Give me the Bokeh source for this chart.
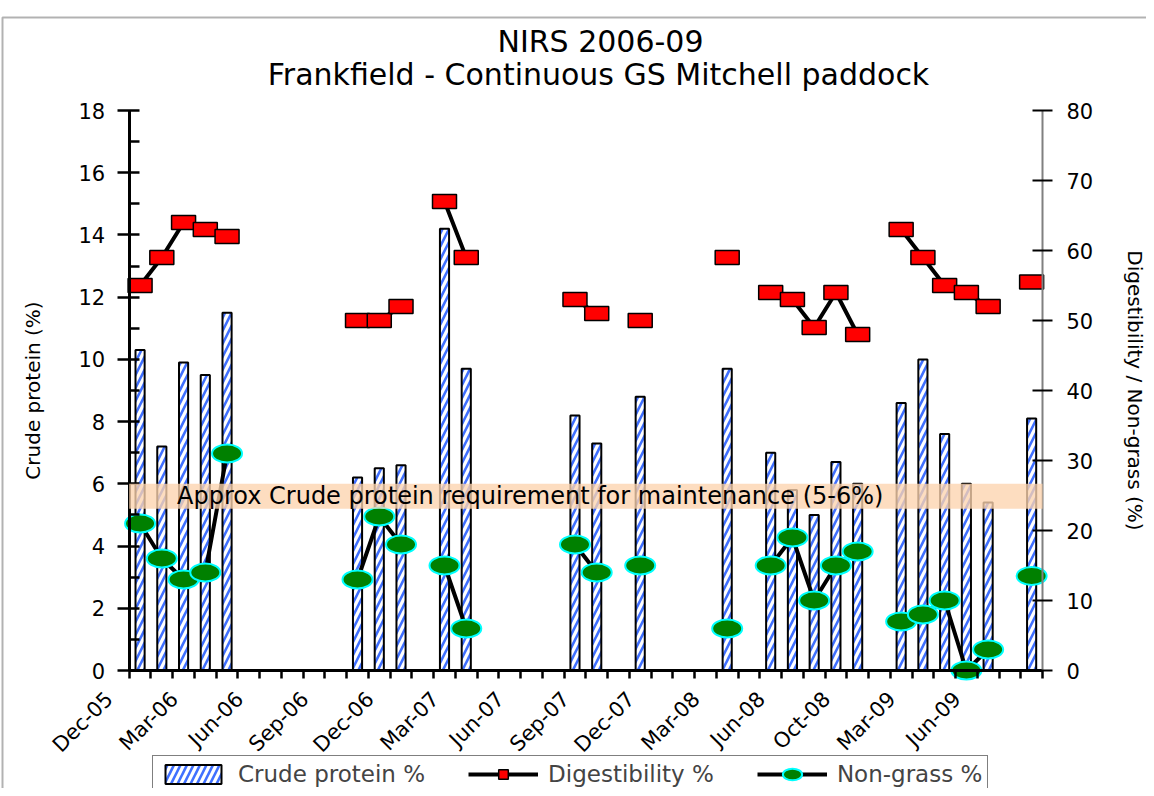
import math
from bokeh.plotting import figure
from bokeh.models import (Range1d, LinearAxis, FixedTicker, BoxAnnotation, Label,
                          Legend, LegendItem)
from bokeh.embed import file_html
from bokeh.resources import INLINE

# ---------------- data ----------------
n_slots = 42
tick_labels = ["Dec-05", "Mar-06", "Jun-06", "Sep-06", "Dec-06", "Mar-07", "Jun-07",
               "Sep-07", "Dec-07", "Mar-08", "Jun-08", "Oct-08", "Mar-09", "Jun-09"]
tick_slots = [0, 3, 6, 9, 12, 15, 18, 21, 24, 27, 30, 33, 36, 39]

sample_slot = [0, 1, 2, 3, 4, 10, 11, 12, 14, 15, 20, 21, 23, 27,
               29, 30, 31, 32, 33, 35, 36, 37, 38, 39, 41]
crude_protein = [10.3, 7.2, 9.9, 9.5, 11.5, 6.2, 6.5, 6.6, 14.2, 9.7, 8.2, 7.3, 8.8, 9.7,
                 7.0, 5.8, 5.0, 6.7, 6.0, 8.6, 10.0, 7.6, 6.0, 5.4, 8.1]
digestibility = [55, 59, 64, 63, 62, 50, 50, 52, 67, 59, 53, 51, 50, 59,
                 54, 53, 49, 54, 48, 63, 59, 55, 54, 52, 55.5]
non_grass = [21, 16, 13, 14, 31, 13, 22, 18, 15, 6, 18, 14, 15, 6,
             15, 19, 10, 15, 17, 7, 8, 10, 0, 3, 13.5]

FONT = "DejaVu Sans"
W, H = 1146, 788
FRAME_L, FRAME_R, FRAME_T, FRAME_B = 128.7, 1042.0, 110.0, 670.0

x_mid = [s + 0.5 for s in sample_slot]
slot_x = [i + 0.5 for i in range(n_slots)]


def full(vals):
    arr = [float("nan")] * n_slots
    for s, v in zip(sample_slot, vals):
        arr[s] = v
    return arr


# ranges chosen so that the plotting box [0,42]x[0,18] lands where the reference has it
xpx = (FRAME_R - FRAME_L) / n_slots
x0 = -FRAME_L / xpx
x1 = n_slots + (W - FRAME_R) / xpx
ypx = (FRAME_B - FRAME_T) / 18.0
y0 = -(H - FRAME_B) / ypx
y1 = 18 + FRAME_T / ypx
rpx = (FRAME_B - FRAME_T) / 80.0
r0 = -(H - FRAME_B) / rpx
r1 = 80 + FRAME_T / rpx

p = figure(width=W, height=H, x_range=Range1d(x0, x1), y_range=Range1d(y0, y1),
           output_backend="svg", toolbar_location=None,
           min_border_left=0, min_border_right=0, min_border_top=0, min_border_bottom=0)
p.extra_y_ranges = {"right": Range1d(r0, r1)}
p.xgrid.visible = False
p.ygrid.visible = False
p.outline_line_color = None
p.background_fill_color = "white"
p.border_fill_color = "white"

# bars
bars = p.vbar(x=x_mid, top=crude_protein, bottom=0, width=0.42,
              fill_color="white", line_color="black", line_width=2,
              hatch_pattern="/", hatch_color="#4070FF", hatch_weight=2.6, hatch_scale=13)

# band
band = BoxAnnotation(bottom=5.2, top=6.0, left=0, right=n_slots,
                     fill_color="#FCD3AE", fill_alpha=0.78, line_color=None)
p.add_layout(band)
p.add_layout(Label(x=2.2, y=5.6, text="Approx Crude protein requirement for maintenance (5-6%)",
                   text_font=FONT, text_font_size="24px", text_baseline="middle",
                   text_color="black"))

# lines + markers
dig_line = p.line(slot_x, full(digestibility), y_range_name="right",
                  line_color="black", line_width=4)
dig_marks = p.rect(x_mid, digestibility, width=24, height=14,
                   width_units="screen", height_units="screen", y_range_name="right",
                   fill_color="#FF0000", line_color="black", line_width=1.5)
ng_line = p.line(slot_x, full(non_grass), y_range_name="right",
                 line_color="black", line_width=4)
ng_marks = p.ellipse(x_mid, non_grass, width=30, height=18,
                     width_units="screen", height_units="screen", y_range_name="right",
                     fill_color="#008000", line_color="#00FFFF", line_width=2)
dig_key = p.scatter(x_mid[:1], digestibility[:1], marker="square", size=17,
                    y_range_name="right", fill_color="#FF0000", line_color="black",
                    line_width=1.5, visible=False)

# left axis
ya = p.yaxis[0]
ya.fixed_location = 0
ya.bounds = (0, 18)
ya.ticker = FixedTicker(ticks=list(range(0, 19, 2)), minor_ticks=list(range(1, 18, 2)))
ya.axis_line_width = 3
ya.major_tick_line_width = 2.5
ya.minor_tick_line_width = 2.5
ya.major_tick_in = 10
ya.major_tick_out = 12
ya.minor_tick_in = 10
ya.minor_tick_out = 0
ya.major_label_standoff = 12
ya.major_label_text_font = FONT
ya.major_label_text_font_size = "21px"
ya.major_label_text_color = "black"
ya.axis_label = "Crude protein (%)"
ya.axis_label_text_font = FONT
ya.axis_label_text_font_size = "20px"
ya.axis_label_text_font_style = "normal"
ya.axis_label_text_color = "black"
ya.axis_label_standoff = 31

# right axis
ra = LinearAxis(y_range_name="right", fixed_location=n_slots, bounds=(0, 80),
                ticker=FixedTicker(ticks=list(range(0, 81, 10))))
ra.axis_line_color = "#808080"
ra.axis_line_width = 2
ra.major_tick_line_width = 2
ra.major_tick_in = 10
ra.major_tick_out = 10
ra.minor_tick_line_color = None
ra.major_label_standoff = 14
ra.major_label_text_font = FONT
ra.major_label_text_font_size = "21px"
ra.major_label_text_color = "black"
ra.axis_label = "Digestibility / Non-grass (%)"
ra.axis_label_text_font = FONT
ra.axis_label_text_font_size = "20px"
ra.axis_label_text_font_style = "normal"
ra.axis_label_text_color = "black"
ra.axis_label_standoff = 27
p.add_layout(ra, "right")

# bottom axis: line and one tick per slot
xa = p.xaxis[0]
xa.fixed_location = 0
xa.bounds = (0, n_slots)
xa.ticker = FixedTicker(ticks=list(range(n_slots + 1)))
xa.major_label_overrides = {i: "" for i in range(n_slots + 1)}
xa.axis_line_width = 3
xa.major_tick_line_width = 2.5
xa.major_tick_in = 0
xa.major_tick_out = 8
xa.minor_tick_line_color = None

# bottom axis: the month labels
label_pos = [round(s - 0.92, 2) for s in tick_slots]
la = LinearAxis(fixed_location=0, ticker=FixedTicker(ticks=label_pos))
la.major_label_overrides = {pos: lab for pos, lab in zip(label_pos, tick_labels)}
la.axis_line_color = None
la.major_tick_line_color = None
la.minor_tick_line_color = None
la.major_tick_in = 0
la.major_tick_out = 8
la.major_label_standoff = 17
la.major_label_orientation = math.pi / 4
la.major_label_text_font = FONT
la.major_label_text_font_size = "21px"
la.major_label_text_color = "black"
p.add_layout(la, "below")

# titles
p.add_layout(Label(x=600, y=H - 41, x_units="screen", y_units="screen", text="NIRS 2006-09",
                   text_align="center", text_baseline="middle", text_font=FONT,
                   text_font_size="30px", text_color="black"))
p.add_layout(Label(x=598, y=H - 74, x_units="screen", y_units="screen",
                   text="Frankfield - Continuous GS Mitchell paddock",
                   text_align="center", text_baseline="middle", text_font=FONT,
                   text_font_size="30px", text_color="black"))

# chart area border
p.add_layout(BoxAnnotation(left=2, right=W + 50, top=H - 17, bottom=-50,
                           left_units="screen", right_units="screen",
                           top_units="screen", bottom_units="screen",
                           fill_color=None, line_color="black", line_width=2))

legend = Legend(items=[LegendItem(label="Crude protein %", renderers=[bars]),
                       LegendItem(label="Digestibility %", renderers=[dig_line, dig_key]),
                       LegendItem(label="Non-grass %", renderers=[ng_line, ng_marks])],
                orientation="horizontal", location=(152, -5),
                label_text_font=FONT, label_text_font_size="23px",
                glyph_width=70, glyph_height=24, label_height=24, label_standoff=10,
                spacing=43, padding=5, margin=0,
                border_line_color="black", border_line_width=1.5,
                background_fill_alpha=1, inactive_fill_alpha=0)
p.add_layout(legend)

open("out.html", "w").write(file_html(p, INLINE))
